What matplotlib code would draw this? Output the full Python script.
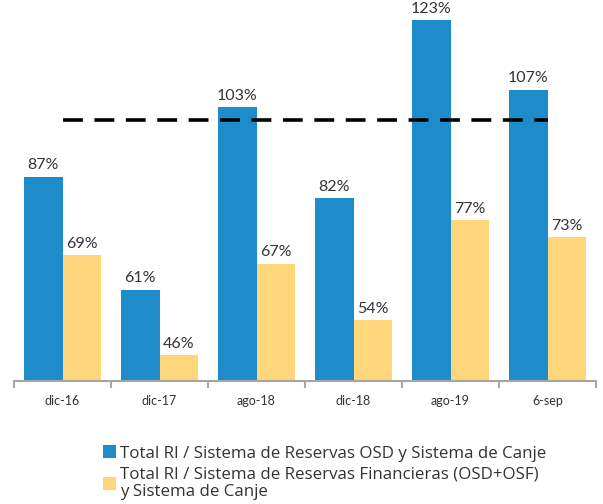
import matplotlib
matplotlib.use("Agg")
import matplotlib.pyplot as plt
import numpy as np
from matplotlib.patches import Patch

categories = ["dic-16", "dic-17", "ago-18", "dic-18", "ago-19", "6-sep"]
osd_canje = [87, 61, 103, 82, 123, 107]
financieras = [69, 46, 67, 54, 77, 73]
reference_level = 100
series_names = ["Total RI / Sistema de Reservas OSD y Sistema de Canje",
                "Total RI / Sistema de Reservas Financieras (OSD+OSF)\ny Sistema de Canje"]

plt.rcParams['font.family'] = ['Lato', 'DejaVu Sans']
blue = "#1E8CCB"
yellow = "#FFD67A"
text_color = "#333333"

fig = plt.figure(figsize=(6.03, 5.04), dpi=100)
ax = fig.add_axes([14/603, 1-381/504, (596-14)/603, 381/504])

x = np.arange(len(categories))
w = 0.395
b1 = ax.bar(x - w/2, osd_canje, w, color=blue, bottom=0)
b2 = ax.bar(x + w/2, financieras, w, color=yellow)

for rect, v in zip(b1, osd_canje):
    ax.text(rect.get_x() + rect.get_width()/2, v + 1.0, f"{v}%", ha="center", va="bottom",
            fontsize=11.5, color=text_color)
for rect, v in zip(b2, financieras):
    ax.text(rect.get_x() + rect.get_width()/2, v + 1.0, f"{v}%", ha="center", va="bottom",
            fontsize=11.5, color=text_color)

ax.plot([x[0], x[-1]], [reference_level, reference_level], color="black", lw=2.6,
        dashes=(5.5, 3.2), solid_capstyle="butt", dash_capstyle="butt")

ax.set_xlim(-0.5, len(categories) - 0.5)
ax.set_ylim(40, 127.6)
ax.set_yticks([])
for s in ["top", "right", "left"]:
    ax.spines[s].set_visible(False)
ax.spines["bottom"].set_color("#A6A6A6")
ax.spines["bottom"].set_linewidth(1.5)
ax.set_xticks(x)
ax.set_xticklabels(categories, fontsize=9, color=text_color)
ax.tick_params(axis="x", which="major", length=0, pad=10)
ax.set_xticks(np.arange(-0.5, len(categories)), minor=True)
ax.tick_params(axis="x", which="minor", length=5, color="#A6A6A6", width=1.5)

handles = [Patch(facecolor=blue), Patch(facecolor=yellow)]
fig.legend(handles, series_names, loc="upper left", bbox_to_anchor=(95/603, 1-437/504),
           frameon=False, handlelength=0.75, handleheight=0.8,
           handletextpad=0.2, labelspacing=0.25, borderpad=0, labelcolor=text_color,
           prop={"family": ["Open Sans", "DejaVu Sans"], "size": 12.2})

fig.savefig("out.png", dpi=100)
